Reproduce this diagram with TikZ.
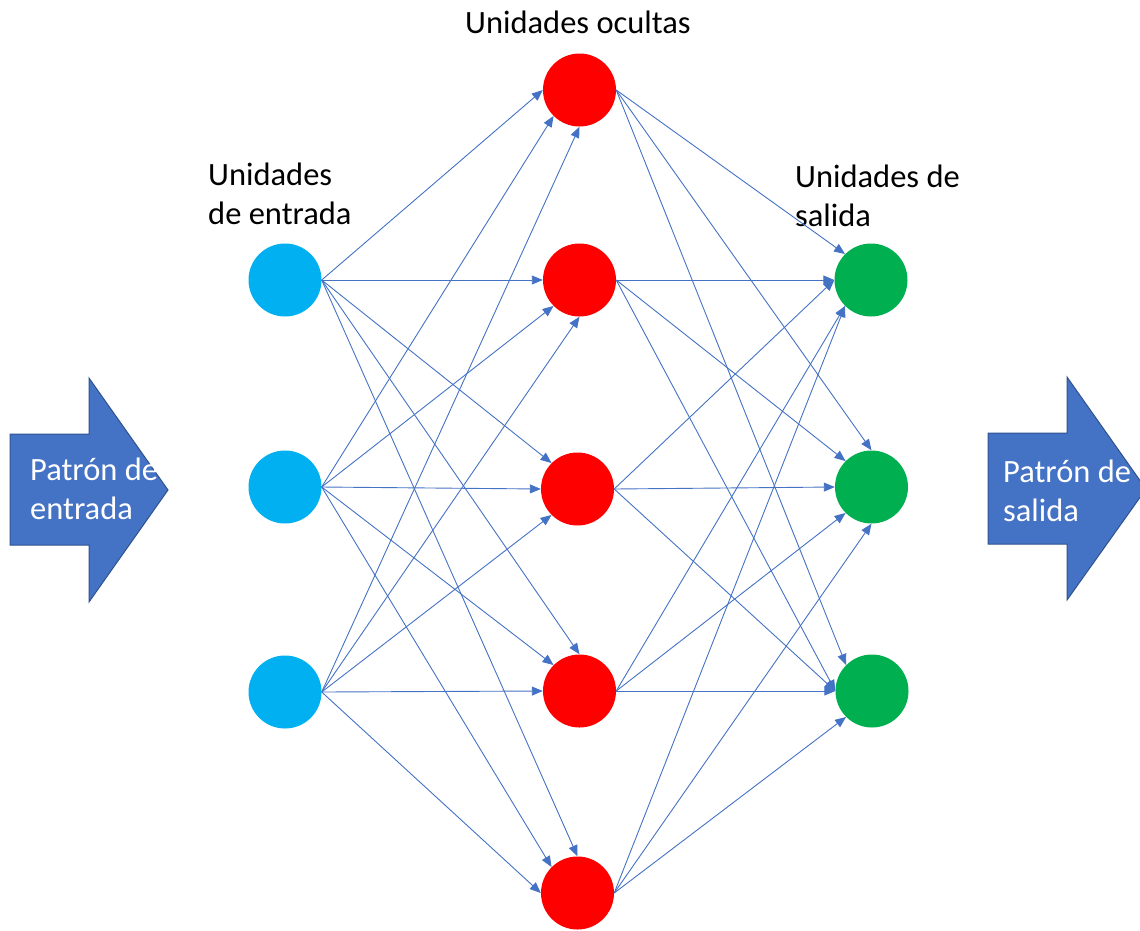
\documentclass[tikz,border=0pt]{standalone}
\usepackage{fontspec}
\setmainfont{Carlito}
\usetikzlibrary{arrows.meta}
\definecolor{inblue}{HTML}{00B0F0}
\definecolor{hidred}{HTML}{FF0000}
\definecolor{outgreen}{HTML}{00B050}
\definecolor{linkblue}{HTML}{4472C4}
\definecolor{arrowfill}{HTML}{4472C4}
\definecolor{arrowedge}{HTML}{2F528F}
\tikzset{
  unit/.style={circle, minimum size=73pt, inner sep=0pt},
  inunit/.style={unit, fill=inblue},
  hidunit/.style={unit, fill=hidred},
  outunit/.style={unit, fill=outgreen},
  link/.style={draw=linkblue, line width=0.9pt, -{Triangle[length=11pt,width=9pt]}},
  label/.style={font=\fontsize{32.5}{39}\selectfont, inner sep=0pt, align=left},
  bigarrow/.style={fill=arrowfill, draw=arrowedge, line width=1pt},
}
\begin{document}
\begin{tikzpicture}[x=1pt, y=-1pt]
\useasboundingbox (0,0) rectangle (1140,930);
\clip (0,0) rectangle (1140,930);

% block arrows for the input and output patterns
\draw[bigarrow] (10,434) -- (89,434) -- (89,378) -- (168,490) -- (89,602) -- (89,545) -- (10,545) -- cycle;
\draw[bigarrow] (988,433) -- (1067,433) -- (1067,377) -- (1146,489) -- (1067,600) -- (1067,544) -- (988,544) -- cycle;
\node[label, text=white, anchor=north west] (pin) at (30,458) {Patrón de\\entrada};
\node[label, text=white, anchor=north west] (pout) at (1003,460) {Patrón de\\salida};

% layer captions
\node[label, anchor=base] (capH) at (578,33) {Unidades ocultas};
\node[label, anchor=north west] (capI) at (208,163) {Unidades\\de entrada};
\node[label, anchor=north west] (capO) at (795,165) {Unidades de\\salida};

% units
\node[inunit] (i1) at (285,280) {};
\node[inunit] (i2) at (285,487) {};
\node[inunit] (i3) at (285,692) {};

\node[hidunit] (h1) at (579.5,90) {};
\node[hidunit] (h2) at (579.5,280) {};
\node[hidunit] (h3) at (577.5,489) {};
\node[hidunit] (h4) at (579.5,691) {};
\node[hidunit] (h5) at (577.5,893) {};

\node[outunit] (o1) at (871,280) {};
\node[outunit] (o2) at (871.5,487) {};
\node[outunit] (o3) at (872,691) {};

% input -> hidden connections
\draw[link] (i1.east) -- (h1.west);
\draw[link] (i1.east) -- (h2.west);
\draw[link] (i1.east) -- (h3.north west);
\draw[link] (i1.east) -- (h4.north);
\draw[link] (i1.east) -- (h5.north);

\draw[link] (i2.east) -- (h1.south west);
\draw[link] (i2.east) -- (h2.south west);
\draw[link] (i2.east) -- (h3.west);
\draw[link] (i2.east) -- (h4.north west);
\draw[link] (i2.east) -- (h5.north west);

\draw[link] (i3.east) -- (h1.south);
\draw[link] (i3.east) -- (h2.south);
\draw[link] (i3.east) -- (h3.south west);
\draw[link] (i3.east) -- (h4.west);
\draw[link] (i3.east) -- (h5.west);

% hidden -> output connections
\draw[link] (h1.east) -- (o1.north west);
\draw[link] (h2.east) -- (o1.west);
\draw[link] (h3.east) -- (o1.west);
\draw[link] (h4.east) -- (o1.south west);
\draw[link] (h5.east) -- (o1.south west);

\draw[link] (h1.east) -- (o2.north);
\draw[link] (h2.east) -- (o2.north west);
\draw[link] (h3.east) -- (o2.west);
\draw[link] (h4.east) -- (o2.south west);
\draw[link] (h5.east) -- (o2.south);

\draw[link] (h1.east) -- (o3.north west);
\draw[link] (h2.east) -- (o3.west);
\draw[link] (h3.east) -- (o3.west);
\draw[link] (h4.east) -- (o3.west);
\draw[link] (h5.east) -- (o3.south west);
\end{tikzpicture}
\end{document}
